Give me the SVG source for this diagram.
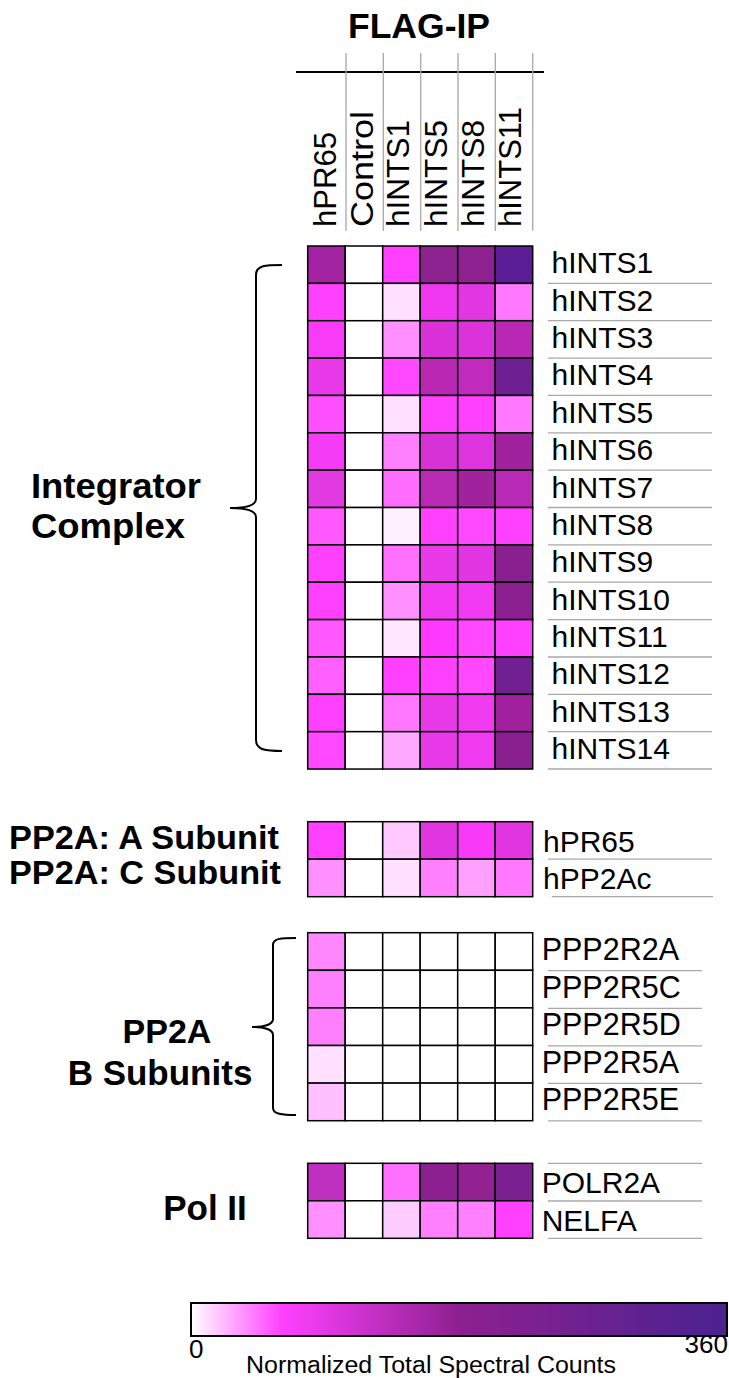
<svg xmlns="http://www.w3.org/2000/svg" width="729" height="1378" viewBox="0 0 729 1378">
<style>
.t{font-family:"Liberation Sans",Arial,sans-serif;fill:#000}
.b{font-family:"Liberation Sans",Arial,sans-serif;font-weight:bold;fill:#000}
.c{stroke:#000;stroke-width:1.5}
.sep{stroke:#a8a8a8;stroke-width:1.3}
.br{fill:none;stroke:#000;stroke-width:2}
</style>
<defs>
<linearGradient id="cmap" x1="0" y1="0" x2="1" y2="0">
<stop offset="0" stop-color="#ffffff"/>
<stop offset="0.17" stop-color="#ff40ff"/>
<stop offset="0.5" stop-color="#8e2090"/>
<stop offset="1" stop-color="#4a2290"/>
</linearGradient>
</defs>
<rect width="729" height="1378" fill="#fff"/>

<g id="header">
<text class="b" x="419" y="38" font-size="35" text-anchor="middle" textLength="142" lengthAdjust="spacingAndGlyphs">FLAG-IP</text>
<line x1="296" y1="72" x2="544" y2="72" stroke="#000" stroke-width="2"/>
<g class="sep">
<line x1="346" y1="53" x2="346" y2="231"/>
<line x1="383.3" y1="53" x2="383.3" y2="231"/>
<line x1="420.7" y1="53" x2="420.7" y2="231"/>
<line x1="458" y1="53" x2="458" y2="231"/>
<line x1="495.3" y1="53" x2="495.3" y2="231"/>
<line x1="532.7" y1="53" x2="532.7" y2="231"/>
</g>
<text class="t" font-size="32" transform="translate(335.5,227) rotate(-90)" textLength="95" lengthAdjust="spacingAndGlyphs">hPR65</text>
<text class="t" font-size="32" transform="translate(372.5,227) rotate(-90)" textLength="116" lengthAdjust="spacingAndGlyphs">Control</text>
<text class="t" font-size="32" transform="translate(409,227) rotate(-90)" textLength="107" lengthAdjust="spacingAndGlyphs">hINTS1</text>
<text class="t" font-size="32" transform="translate(446.5,227) rotate(-90)" textLength="107" lengthAdjust="spacingAndGlyphs">hINTS5</text>
<text class="t" font-size="32" transform="translate(483.5,227) rotate(-90)" textLength="107" lengthAdjust="spacingAndGlyphs">hINTS8</text>
<text class="t" font-size="32" transform="translate(520.5,227) rotate(-90)" textLength="120" lengthAdjust="spacingAndGlyphs">hINTS11</text>
</g>

<g id="group-labels">
<text class="b" x="31" y="498" font-size="35" textLength="170" lengthAdjust="spacingAndGlyphs">Integrator</text>
<text class="b" x="31" y="538" font-size="35" textLength="154" lengthAdjust="spacingAndGlyphs">Complex</text>
<text class="b" x="9" y="849" font-size="34" textLength="270" lengthAdjust="spacingAndGlyphs">PP2A: A Subunit</text>
<text class="b" x="9" y="884" font-size="34" textLength="272" lengthAdjust="spacingAndGlyphs">PP2A: C Subunit</text>
<text class="b" x="167" y="1043" font-size="34" text-anchor="middle">PP2A</text>
<text class="b" x="160" y="1085" font-size="35" text-anchor="middle">B Subunits</text>
<text class="b" x="205" y="1220" font-size="35" text-anchor="middle">Pol II</text>
</g>

<g id="braces">
<path class="br" d="M282,265 C266,265 256,265 256,275 L256,499 C256,505 246,508 230,508 C246,508 256,511 256,517 L256,740 C256,750 266,751 282,751"/>
<path class="br" stroke-width="1.6" d="M296,938 C282,938 273,938 273,945 L273,1019 C273,1024 265,1027 252,1027 C265,1027 273,1030 273,1035 L273,1108 C273,1114 282,1115 296,1115"/>
</g>

<g id="integrator-rows" class="c">
<g id="row-hINTS1"><rect x="307.7" y="246" width="37.5" height="37.36" fill="#a324a3"/><rect x="345.2" y="246" width="37.5" height="37.36" fill="#fff"/><rect x="382.7" y="246" width="37.5" height="37.36" fill="#ff40ff"/><rect x="420.2" y="246" width="37.5" height="37.36" fill="#8c2190"/><rect x="457.7" y="246" width="37.5" height="37.36" fill="#8e2190"/><rect x="495.2" y="246" width="37.5" height="37.36" fill="#5c1e96"/></g>
<g id="row-hINTS2"><rect x="307.7" y="283.36" width="37.5" height="37.36" fill="#ff40ff"/><rect x="345.2" y="283.36" width="37.5" height="37.36" fill="#fff"/><rect x="382.7" y="283.36" width="37.5" height="37.36" fill="#ffe0ff"/><rect x="420.2" y="283.36" width="37.5" height="37.36" fill="#f038f0"/><rect x="457.7" y="283.36" width="37.5" height="37.36" fill="#e336e3"/><rect x="495.2" y="283.36" width="37.5" height="37.36" fill="#ff78ff"/></g>
<g id="row-hINTS3"><rect x="307.7" y="320.72" width="37.5" height="37.36" fill="#f73bf7"/><rect x="345.2" y="320.72" width="37.5" height="37.36" fill="#fff"/><rect x="382.7" y="320.72" width="37.5" height="37.36" fill="#ff90ff"/><rect x="420.2" y="320.72" width="37.5" height="37.36" fill="#d932d9"/><rect x="457.7" y="320.72" width="37.5" height="37.36" fill="#d933d9"/><rect x="495.2" y="320.72" width="37.5" height="37.36" fill="#b828b4"/></g>
<g id="row-hINTS4"><rect x="307.7" y="358.08" width="37.5" height="37.36" fill="#e83ae8"/><rect x="345.2" y="358.08" width="37.5" height="37.36" fill="#fff"/><rect x="382.7" y="358.08" width="37.5" height="37.36" fill="#ff48ff"/><rect x="420.2" y="358.08" width="37.5" height="37.36" fill="#b828b2"/><rect x="457.7" y="358.08" width="37.5" height="37.36" fill="#c02bbe"/><rect x="495.2" y="358.08" width="37.5" height="37.36" fill="#6e1f92"/></g>
<g id="row-hINTS5"><rect x="307.7" y="395.44" width="37.5" height="37.36" fill="#ff50ff"/><rect x="345.2" y="395.44" width="37.5" height="37.36" fill="#fff"/><rect x="382.7" y="395.44" width="37.5" height="37.36" fill="#ffe0ff"/><rect x="420.2" y="395.44" width="37.5" height="37.36" fill="#ff40ff"/><rect x="457.7" y="395.44" width="37.5" height="37.36" fill="#ff40ff"/><rect x="495.2" y="395.44" width="37.5" height="37.36" fill="#ff78ff"/></g>
<g id="row-hINTS6"><rect x="307.7" y="432.8" width="37.5" height="37.36" fill="#f63bf6"/><rect x="345.2" y="432.8" width="37.5" height="37.36" fill="#fff"/><rect x="382.7" y="432.8" width="37.5" height="37.36" fill="#ff80ff"/><rect x="420.2" y="432.8" width="37.5" height="37.36" fill="#d632d6"/><rect x="457.7" y="432.8" width="37.5" height="37.36" fill="#dd35dd"/><rect x="495.2" y="432.8" width="37.5" height="37.36" fill="#a0229c"/></g>
<g id="row-hINTS7"><rect x="307.7" y="470.16" width="37.5" height="37.36" fill="#e03ae0"/><rect x="345.2" y="470.16" width="37.5" height="37.36" fill="#fff"/><rect x="382.7" y="470.16" width="37.5" height="37.36" fill="#ff6eff"/><rect x="420.2" y="470.16" width="37.5" height="37.36" fill="#b82ab4"/><rect x="457.7" y="470.16" width="37.5" height="37.36" fill="#a0229c"/><rect x="495.2" y="470.16" width="37.5" height="37.36" fill="#b82ab6"/></g>
<g id="row-hINTS8"><rect x="307.7" y="507.52" width="37.5" height="37.36" fill="#ff58ff"/><rect x="345.2" y="507.52" width="37.5" height="37.36" fill="#fff"/><rect x="382.7" y="507.52" width="37.5" height="37.36" fill="#fff0ff"/><rect x="420.2" y="507.52" width="37.5" height="37.36" fill="#ff40ff"/><rect x="457.7" y="507.52" width="37.5" height="37.36" fill="#ff48ff"/><rect x="495.2" y="507.52" width="37.5" height="37.36" fill="#ff40ff"/></g>
<g id="row-hINTS9"><rect x="307.7" y="544.88" width="37.5" height="37.36" fill="#ff40ff"/><rect x="345.2" y="544.88" width="37.5" height="37.36" fill="#fff"/><rect x="382.7" y="544.88" width="37.5" height="37.36" fill="#ff70ff"/><rect x="420.2" y="544.88" width="37.5" height="37.36" fill="#e83ae8"/><rect x="457.7" y="544.88" width="37.5" height="37.36" fill="#e035e0"/><rect x="495.2" y="544.88" width="37.5" height="37.36" fill="#8a2090"/></g>
<g id="row-hINTS10"><rect x="307.7" y="582.24" width="37.5" height="37.36" fill="#ff40ff"/><rect x="345.2" y="582.24" width="37.5" height="37.36" fill="#fff"/><rect x="382.7" y="582.24" width="37.5" height="37.36" fill="#ff90ff"/><rect x="420.2" y="582.24" width="37.5" height="37.36" fill="#f23af2"/><rect x="457.7" y="582.24" width="37.5" height="37.36" fill="#f23af2"/><rect x="495.2" y="582.24" width="37.5" height="37.36" fill="#8c2090"/></g>
<g id="row-hINTS11"><rect x="307.7" y="619.6" width="37.5" height="37.36" fill="#ff58ff"/><rect x="345.2" y="619.6" width="37.5" height="37.36" fill="#fff"/><rect x="382.7" y="619.6" width="37.5" height="37.36" fill="#ffe8ff"/><rect x="420.2" y="619.6" width="37.5" height="37.36" fill="#ff38ff"/><rect x="457.7" y="619.6" width="37.5" height="37.36" fill="#ff48ff"/><rect x="495.2" y="619.6" width="37.5" height="37.36" fill="#ff40ff"/></g>
<g id="row-hINTS12"><rect x="307.7" y="656.96" width="37.5" height="37.36" fill="#ff60ff"/><rect x="345.2" y="656.96" width="37.5" height="37.36" fill="#fff"/><rect x="382.7" y="656.96" width="37.5" height="37.36" fill="#ff40ff"/><rect x="420.2" y="656.96" width="37.5" height="37.36" fill="#ff40ff"/><rect x="457.7" y="656.96" width="37.5" height="37.36" fill="#ff48ff"/><rect x="495.2" y="656.96" width="37.5" height="37.36" fill="#702090"/></g>
<g id="row-hINTS13"><rect x="307.7" y="694.32" width="37.5" height="37.36" fill="#ff40ff"/><rect x="345.2" y="694.32" width="37.5" height="37.36" fill="#fff"/><rect x="382.7" y="694.32" width="37.5" height="37.36" fill="#ff78ff"/><rect x="420.2" y="694.32" width="37.5" height="37.36" fill="#e83ae8"/><rect x="457.7" y="694.32" width="37.5" height="37.36" fill="#f03af0"/><rect x="495.2" y="694.32" width="37.5" height="37.36" fill="#a0209e"/></g>
<g id="row-hINTS14"><rect x="307.7" y="731.68" width="37.5" height="37.36" fill="#ff48ff"/><rect x="345.2" y="731.68" width="37.5" height="37.36" fill="#fff"/><rect x="382.7" y="731.68" width="37.5" height="37.36" fill="#ffa8ff"/><rect x="420.2" y="731.68" width="37.5" height="37.36" fill="#e83ae8"/><rect x="457.7" y="731.68" width="37.5" height="37.36" fill="#f03af0"/><rect x="495.2" y="731.68" width="37.5" height="37.36" fill="#8a2090"/></g>
</g>

<g id="integrator-labels">
<g class="sep">
<line x1="548" y1="283.4" x2="712" y2="283.4"/><line x1="548" y1="320.7" x2="712" y2="320.7"/><line x1="548" y1="358.1" x2="712" y2="358.1"/><line x1="548" y1="395.4" x2="712" y2="395.4"/><line x1="548" y1="432.8" x2="712" y2="432.8"/><line x1="548" y1="470.2" x2="712" y2="470.2"/><line x1="548" y1="507.5" x2="712" y2="507.5"/><line x1="548" y1="544.9" x2="712" y2="544.9"/><line x1="548" y1="582.2" x2="712" y2="582.2"/><line x1="548" y1="619.6" x2="712" y2="619.6"/><line x1="548" y1="657" x2="712" y2="657"/><line x1="548" y1="694.3" x2="712" y2="694.3"/><line x1="548" y1="731.7" x2="712" y2="731.7"/><line x1="548" y1="769" x2="712" y2="769"/>
</g>
<text class="t" font-size="30" x="551.5" y="273.3">hINTS1</text>
<text class="t" font-size="30" x="551.5" y="310.7">hINTS2</text>
<text class="t" font-size="30" x="551.5" y="348">hINTS3</text>
<text class="t" font-size="30" x="551.5" y="385.4">hINTS4</text>
<text class="t" font-size="30" x="551.5" y="422.7">hINTS5</text>
<text class="t" font-size="30" x="551.5" y="460.1">hINTS6</text>
<text class="t" font-size="30" x="551.5" y="497.5">hINTS7</text>
<text class="t" font-size="30" x="551.5" y="534.8">hINTS8</text>
<text class="t" font-size="30" x="551.5" y="572.2">hINTS9</text>
<text class="t" font-size="30" x="551.5" y="609.5">hINTS10</text>
<text class="t" font-size="30" x="551.5" y="646.9">hINTS11</text>
<text class="t" font-size="30" x="551.5" y="684.3">hINTS12</text>
<text class="t" font-size="30" x="551.5" y="721.6">hINTS13</text>
<text class="t" font-size="30" x="551.5" y="759">hINTS14</text>
</g>

<g id="pp2a-ac" class="c">
<g id="row-hPR65"><rect x="307.7" y="821.7" width="37.5" height="37.5" fill="#ff40ff"/><rect x="345.2" y="821.7" width="37.5" height="37.5" fill="#fff"/><rect x="382.7" y="821.7" width="37.5" height="37.5" fill="#ffc8ff"/><rect x="420.2" y="821.7" width="37.5" height="37.5" fill="#e035e0"/><rect x="457.7" y="821.7" width="37.5" height="37.5" fill="#f83af8"/><rect x="495.2" y="821.7" width="37.5" height="37.5" fill="#e035e0"/></g>
<g id="row-hPP2Ac"><rect x="307.7" y="859.2" width="37.5" height="37.5" fill="#ff90ff"/><rect x="345.2" y="859.2" width="37.5" height="37.5" fill="#fff"/><rect x="382.7" y="859.2" width="37.5" height="37.5" fill="#ffe0ff"/><rect x="420.2" y="859.2" width="37.5" height="37.5" fill="#ff80ff"/><rect x="457.7" y="859.2" width="37.5" height="37.5" fill="#ffa0ff"/><rect x="495.2" y="859.2" width="37.5" height="37.5" fill="#ff78ff"/></g>
</g>
<g id="pp2a-ac-labels">
<line class="sep" x1="548" y1="859.2" x2="712" y2="859.2"/>
<line class="sep" x1="551.7" y1="896.7" x2="713" y2="896.7"/>
<text class="t" font-size="30" x="543" y="851.7">hPR65</text>
<text class="t" font-size="30" x="543" y="889">hPP2Ac</text>
</g>

<g id="pp2a-b" class="c">
<g id="row-PPP2R2A"><rect x="307.7" y="932.7" width="37.5" height="37.6" fill="#ff88ff"/><rect x="345.2" y="932.7" width="37.5" height="37.6" fill="#fff"/><rect x="382.7" y="932.7" width="37.5" height="37.6" fill="#fff"/><rect x="420.2" y="932.7" width="37.5" height="37.6" fill="#fff"/><rect x="457.7" y="932.7" width="37.5" height="37.6" fill="#fff"/><rect x="495.2" y="932.7" width="37.5" height="37.6" fill="#fff"/></g>
<g id="row-PPP2R5C"><rect x="307.7" y="970.3" width="37.5" height="37.6" fill="#ff80ff"/><rect x="345.2" y="970.3" width="37.5" height="37.6" fill="#fff"/><rect x="382.7" y="970.3" width="37.5" height="37.6" fill="#fff"/><rect x="420.2" y="970.3" width="37.5" height="37.6" fill="#fff"/><rect x="457.7" y="970.3" width="37.5" height="37.6" fill="#fff"/><rect x="495.2" y="970.3" width="37.5" height="37.6" fill="#fff"/></g>
<g id="row-PPP2R5D"><rect x="307.7" y="1007.9" width="37.5" height="37.6" fill="#ff80ff"/><rect x="345.2" y="1007.9" width="37.5" height="37.6" fill="#fff"/><rect x="382.7" y="1007.9" width="37.5" height="37.6" fill="#fff"/><rect x="420.2" y="1007.9" width="37.5" height="37.6" fill="#fff"/><rect x="457.7" y="1007.9" width="37.5" height="37.6" fill="#fff"/><rect x="495.2" y="1007.9" width="37.5" height="37.6" fill="#fff"/></g>
<g id="row-PPP2R5A"><rect x="307.7" y="1045.5" width="37.5" height="37.6" fill="#ffe0ff"/><rect x="345.2" y="1045.5" width="37.5" height="37.6" fill="#fff"/><rect x="382.7" y="1045.5" width="37.5" height="37.6" fill="#fff"/><rect x="420.2" y="1045.5" width="37.5" height="37.6" fill="#fff"/><rect x="457.7" y="1045.5" width="37.5" height="37.6" fill="#fff"/><rect x="495.2" y="1045.5" width="37.5" height="37.6" fill="#fff"/></g>
<g id="row-PPP2R5E"><rect x="307.7" y="1083.1" width="37.5" height="37.6" fill="#ffc0ff"/><rect x="345.2" y="1083.1" width="37.5" height="37.6" fill="#fff"/><rect x="382.7" y="1083.1" width="37.5" height="37.6" fill="#fff"/><rect x="420.2" y="1083.1" width="37.5" height="37.6" fill="#fff"/><rect x="457.7" y="1083.1" width="37.5" height="37.6" fill="#fff"/><rect x="495.2" y="1083.1" width="37.5" height="37.6" fill="#fff"/></g>
</g>
<g id="pp2a-b-labels">
<g class="sep">
<line x1="548" y1="970.7" x2="702" y2="970.7"/><line x1="548" y1="1008.3" x2="702" y2="1008.3"/><line x1="548" y1="1045.8" x2="702" y2="1045.8"/><line x1="548" y1="1083.3" x2="702" y2="1083.3"/><line x1="548" y1="1120.8" x2="702" y2="1120.8"/>
</g>
<text class="t" font-size="30.5" x="541.7" y="960">PPP2R2A</text>
<text class="t" font-size="30.5" x="541.7" y="997.6">PPP2R5C</text>
<text class="t" font-size="30.5" x="541.7" y="1035.2">PPP2R5D</text>
<text class="t" font-size="30.5" x="541.7" y="1072.8">PPP2R5A</text>
<text class="t" font-size="30.5" x="541.7" y="1110.4">PPP2R5E</text>
</g>

<g id="polii" class="c">
<g id="row-POLR2A"><rect x="307.7" y="1163.3" width="37.5" height="37.5" fill="#c030c0"/><rect x="345.2" y="1163.3" width="37.5" height="37.5" fill="#fff"/><rect x="382.7" y="1163.3" width="37.5" height="37.5" fill="#ff70ff"/><rect x="420.2" y="1163.3" width="37.5" height="37.5" fill="#8c2090"/><rect x="457.7" y="1163.3" width="37.5" height="37.5" fill="#922292"/><rect x="495.2" y="1163.3" width="37.5" height="37.5" fill="#7a2090"/></g>
<g id="row-NELFA"><rect x="307.7" y="1200.8" width="37.5" height="37.5" fill="#ff90ff"/><rect x="345.2" y="1200.8" width="37.5" height="37.5" fill="#fff"/><rect x="382.7" y="1200.8" width="37.5" height="37.5" fill="#ffccff"/><rect x="420.2" y="1200.8" width="37.5" height="37.5" fill="#ff80ff"/><rect x="457.7" y="1200.8" width="37.5" height="37.5" fill="#ff80ff"/><rect x="495.2" y="1200.8" width="37.5" height="37.5" fill="#ff40ff"/></g>
</g>
<g id="polii-labels">
<g class="sep">
<line x1="548" y1="1163.3" x2="702" y2="1163.3"/><line x1="548" y1="1201" x2="702" y2="1201"/><line x1="548" y1="1238.3" x2="702" y2="1238.3"/>
</g>
<text class="t" font-size="30" x="541.7" y="1193.3">POLR2A</text>
<text class="t" font-size="30" x="541.7" y="1231">NELFA</text>
</g>

<g id="colorbar">
<rect x="191" y="1303" width="536" height="33" fill="url(#cmap)" stroke="#000" stroke-width="2"/>
<text class="t" font-size="26" x="189" y="1358">0</text>
<text class="t" font-size="26" x="728" y="1353" text-anchor="end">360</text>
<text class="t" font-size="23" x="431" y="1373" text-anchor="middle" textLength="370" lengthAdjust="spacingAndGlyphs">Normalized Total Spectral Counts</text>
</g>
</svg>
